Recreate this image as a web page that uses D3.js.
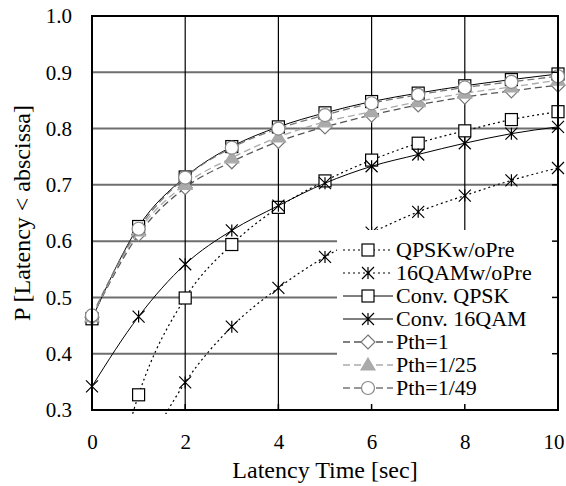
<!DOCTYPE html>
<html>
<head>
<meta charset="utf-8">
<script src="https://cdn.jsdelivr.net/npm/d3@7"></script>
<style>
  body { margin: 0; background: #fff; }
  svg text { font-family: "Liberation Serif", "Times New Roman", serif; fill: #000; }
</style>
</head>
<body>
<div id="chart"></div>
<script>
// latency (sec)
var latency = [0, 1, 2, 3, 4, 5, 6, 7, 8, 9, 10];

// P[Latency < abscissa] per scheme (values below 0.3 fall outside the frame)
var qpskNoPre  = [0.0, 0.327, 0.499, 0.594, 0.660, 0.707, 0.744, 0.774, 0.796, 0.816, 0.830];
var qam16NoPre = [0.0, 0.200, 0.349, 0.448, 0.517, 0.572, 0.615, 0.652, 0.681, 0.708, 0.730];
var convQpsk   = [0.462, 0.626, 0.714, 0.768, 0.803, 0.828, 0.848, 0.863, 0.876, 0.887, 0.897];
var convQam16  = [0.342, 0.466, 0.559, 0.619, 0.663, 0.703, 0.733, 0.754, 0.774, 0.791, 0.803];
var pth1       = [0.465, 0.612, 0.695, 0.741, 0.777, 0.803, 0.824, 0.842, 0.856, 0.867, 0.877];
var pth25      = [0.466, 0.618, 0.701, 0.748, 0.785, 0.812, 0.830, 0.848, 0.863, 0.874, 0.886];
var pth49      = [0.468, 0.622, 0.713, 0.766, 0.800, 0.824, 0.845, 0.860, 0.873, 0.883, 0.893];

var xTicks = [0, 2, 4, 6, 8, 10];
var yTicks = [0.3, 0.4, 0.5, 0.6, 0.7, 0.8, 0.9, 1.0];

var series = [
    { name: 'QPSKw/oPre',  values: qpskNoPre,  dash: '2,3', color: '#000', marker: 'square', mfill: '#fff', mstroke: '#000', width: 1.2 },
    { name: '16QAMw/oPre', values: qam16NoPre, dash: '2,3', color: '#000', marker: 'star',   mfill: 'none', mstroke: '#000', width: 1.2 },
    { name: 'Conv. QPSK',  values: convQpsk,   dash: null,  color: '#000', marker: 'square', mfill: '#fff', mstroke: '#000', width: 1 },
    { name: 'Conv. 16QAM', values: convQam16,  dash: null,  color: '#000', marker: 'star',   mfill: 'none', mstroke: '#000', width: 1 },
    { name: 'Pth=1',       values: pth1,       dash: '7,4', color: '#555', marker: 'diamond', mfill: '#fff', mstroke: '#777', width: 1.3 },
    { name: 'Pth=1/25',    values: pth25,      dash: '7,4', color: '#aaa', marker: 'triangle', mfill: '#aaa', mstroke: '#aaa', width: 1.3 },
    { name: 'Pth=1/49',    values: pth49,      dash: '7,4', color: '#777', marker: 'circle', mfill: '#fff', mstroke: '#888', width: 1.3 }
];

var W = 566, H = 486;
var margin = { top: 16, right: 8, bottom: 76, left: 92 };
var width = W - margin.left - margin.right,
    height = H - margin.top - margin.bottom;

var x = d3.scaleLinear().domain([0, 10]).range([0, width]);
var y = d3.scaleLinear().domain([0.3, 1.0]).range([height, 0]);

var root = d3.select('#chart').append('svg')
    .attr('width', W)
    .attr('height', H);

var svg = root.append('g')
    .attr('transform', 'translate(' + margin.left + ',' + margin.top + ')');

svg.append('clipPath')
    .attr('id', 'clip')
    .append('rect')
    .attr('x', -8)
    .attr('y', -2)
    .attr('width', width + 16)
    .attr('height', height + 6);

// horizontal grid (gray)
svg.selectAll('.hgrid')
    .data(yTicks.filter(function(d) { return d > 0.3 && d < 1.0; }))
    .enter().append('line')
    .attr('x1', 0).attr('x2', width)
    .attr('y1', function(d) { return y(d); })
    .attr('y2', function(d) { return y(d); })
    .attr('stroke', '#6e6e6e')
    .attr('stroke-width', 2);

// vertical grid (black)
svg.selectAll('.vgrid')
    .data(xTicks.filter(function(d) { return d > 0 && d < 10; }))
    .enter().append('line')
    .attr('x1', function(d) { return x(d); })
    .attr('x2', function(d) { return x(d); })
    .attr('y1', 0).attr('y2', height)
    .attr('stroke', '#000')
    .attr('stroke-width', 1.2);

var line = d3.line()
    .x(function(d) { return x(d.x); })
    .y(function(d) { return y(d.y); })
    .curve(d3.curveMonotoneX);

function drawMarker(g, s, cx, cy) {
    var m;
    if (s.marker === 'square') {
        m = g.append('rect').attr('x', cx - 6).attr('y', cy - 6).attr('width', 12).attr('height', 12);
    } else if (s.marker === 'circle') {
        m = g.append('circle').attr('cx', cx).attr('cy', cy).attr('r', 6.5);
    } else if (s.marker === 'diamond') {
        m = g.append('path').attr('d', 'M' + cx + ',' + (cy - 7) + 'L' + (cx + 7) + ',' + cy +
            'L' + cx + ',' + (cy + 7) + 'L' + (cx - 7) + ',' + cy + 'Z');
    } else if (s.marker === 'triangle') {
        m = g.append('path').attr('d', 'M' + cx + ',' + (cy - 7) + 'L' + (cx + 7) + ',' + (cy + 5) +
            'L' + (cx - 7) + ',' + (cy + 5) + 'Z');
    } else {
        m = g.append('path').attr('d',
            'M' + (cx - 6) + ',' + (cy - 6) + 'L' + (cx + 6) + ',' + (cy + 6) +
            'M' + (cx + 6) + ',' + (cy - 6) + 'L' + (cx - 6) + ',' + (cy + 6) +
            'M' + cx + ',' + (cy - 6) + 'L' + cx + ',' + (cy + 6));
    }
    m.attr('fill', s.mfill).attr('stroke', s.mstroke).attr('stroke-width', 1.2);
}

var plot = svg.append('g').attr('clip-path', 'url(#clip)');

series.forEach(function(s) {
    var pts = latency.map(function(t, i) { return { x: t, y: s.values[i] }; });
    plot.append('path')
        .datum(pts)
        .attr('d', line)
        .attr('fill', 'none')
        .attr('stroke', s.color)
        .attr('stroke-width', s.width)
        .attr('stroke-dasharray', s.dash);
    var mg = plot.append('g');
    pts.filter(function(p) { return p.y >= 0.3; }).forEach(function(p) {
        drawMarker(mg, s, x(p.x), y(p.y));
    });
});

// legend (white box covering the grid)
var legX = 245, legY = 214;
svg.append('rect')
    .attr('x', legX)
    .attr('y', legY)
    .attr('width', width - legX)
    .attr('height', height - legY)
    .attr('fill', '#fff');

var legend = svg.append('g').attr('transform', 'translate(' + (legX + 6) + ',' + (legY + 20) + ')');
series.forEach(function(s, i) {
    var row = legend.append('g').attr('transform', 'translate(0,' + (i * 23) + ')');
    row.append('line')
        .attr('x1', 0).attr('x2', 50)
        .attr('y1', 0).attr('y2', 0)
        .attr('stroke', s.color)
        .attr('stroke-width', s.width)
        .attr('stroke-dasharray', s.dash);
    drawMarker(row, s, 25, 0);
    row.append('text')
        .attr('x', 53)
        .attr('y', 7)
        .attr('font-size', 22)
        .text(s.name);
});

// inner tick marks
svg.selectAll('.xtick')
    .data(xTicks)
    .enter().append('line')
    .attr('x1', function(d) { return x(d); })
    .attr('x2', function(d) { return x(d); })
    .attr('y1', height).attr('y2', height - 6)
    .attr('stroke', '#000').attr('stroke-width', 1.5);

svg.selectAll('.ytick')
    .data(yTicks)
    .enter().append('line')
    .attr('x1', width).attr('x2', width - 6)
    .attr('y1', function(d) { return y(d); })
    .attr('y2', function(d) { return y(d); })
    .attr('stroke', '#000').attr('stroke-width', 1.5);

// frame
svg.append('rect')
    .attr('x', 0).attr('y', 0)
    .attr('width', width).attr('height', height)
    .attr('fill', 'none')
    .attr('stroke', '#000')
    .attr('stroke-width', 2);

// axes labels
var xAxis = d3.axisBottom(x).tickValues(xTicks).tickSize(0).tickPadding(24).tickFormat(d3.format('d'));
var gx = svg.append('g').attr('transform', 'translate(0,' + height + ')').call(xAxis);
gx.select('.domain').remove();
gx.selectAll('text').attr('font-size', 21).attr('font-family', '"Liberation Serif", serif');
// last label pulled inside the window
gx.selectAll('.tick').filter(function(d) { return d === 10; })
    .select('text').attr('text-anchor', 'end').attr('dx', 6);

var yAxis = d3.axisLeft(y).tickValues(yTicks).tickSize(0).tickPadding(20).tickFormat(d3.format('.1f'));
var gy = svg.append('g').call(yAxis);
gy.select('.domain').remove();
gy.selectAll('text').attr('font-size', 21).attr('font-family', '"Liberation Serif", serif');

svg.append('text')
    .attr('x', width / 2)
    .attr('y', height + 68)
    .attr('text-anchor', 'middle')
    .attr('font-size', 24)
    .text('Latency Time [sec]');

svg.append('text')
    .attr('transform', 'translate(' + (-62) + ',' + (height / 2) + ') rotate(-90)')
    .attr('text-anchor', 'middle')
    .attr('font-size', 24)
    .text('P [Latency < abscissa]');
</script>
</body>
</html>
